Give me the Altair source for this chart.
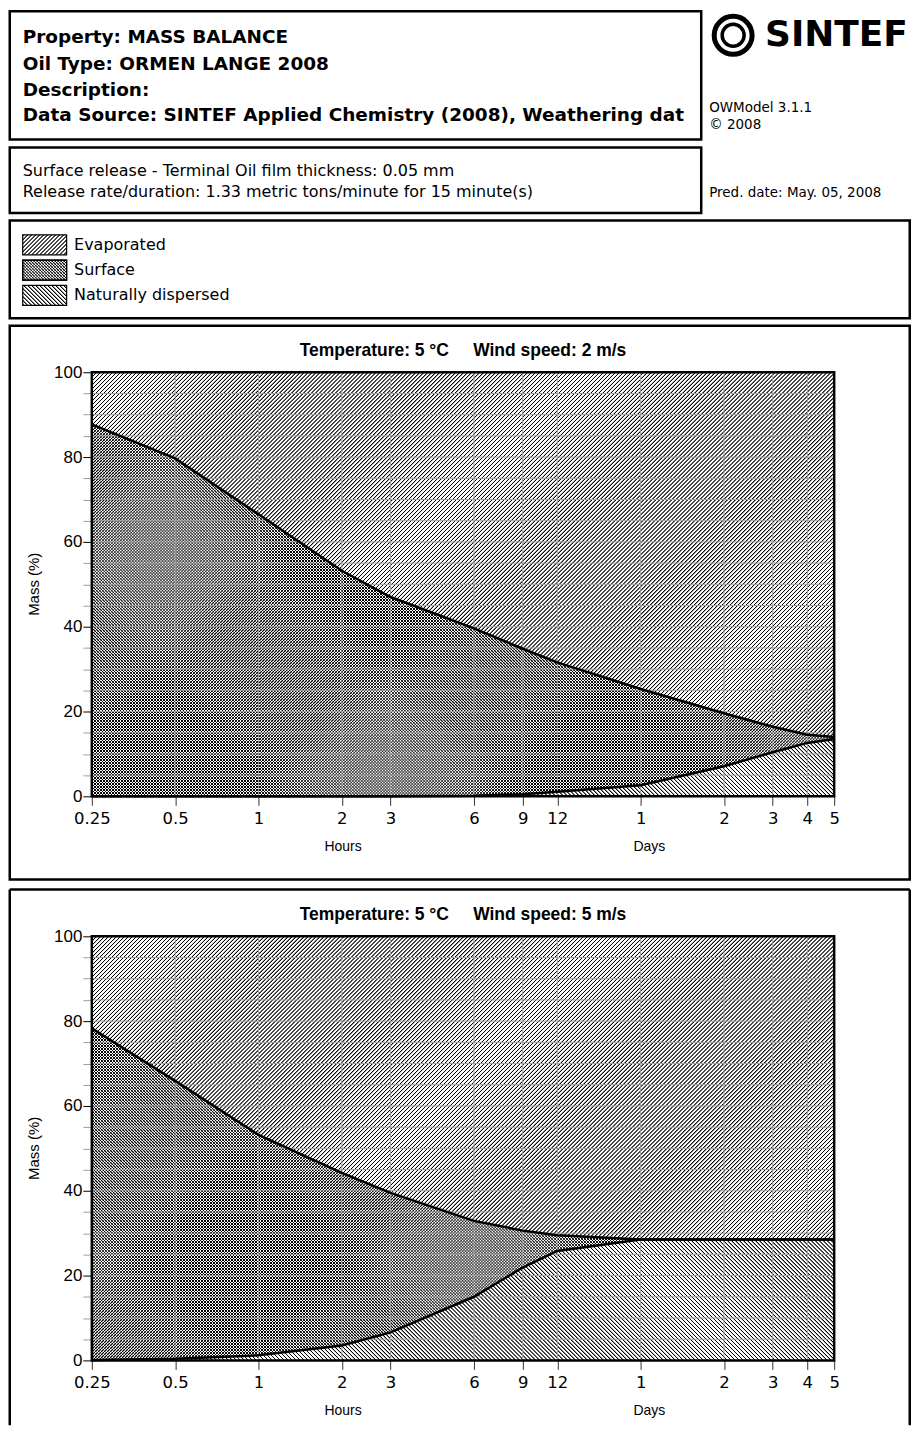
import altair as alt
import pandas as pd

# ---------------- data ----------------
HOURS = [0.25, 0.5, 1, 2, 3, 6, 9, 12, 24, 48, 72, 96, 120]
TICK_LABELS = ["0.25", "0.5", "1", "2", "3", "6", "9", "12", "1", "2", "3", "4", "5"]
Y_TICKS = list(range(0, 101, 5))
Y_GRID = list(range(5, 100, 5))
X_GRID = HOURS[1:-1]

# cumulative boundaries (%): surface+dispersed (upper line) and dispersed (lower line)
P1_UPPER = [87.7, 79.7, 66.5, 53.2, 47.0, 39.6, 34.8, 31.6, 25.3, 19.6, 16.4, 14.5, 14.0]
P1_LOWER = [0.0, 0.0, 0.0, 0.0, 0.0, 0.15, 0.5, 1.1, 2.6, 7.1, 10.4, 12.6, 13.5]
P2_UPPER = [78.3, 65.9, 53.2, 44.2, 39.5, 32.9, 30.6, 29.5, 28.5, 28.5, 28.5, 28.5, 28.5]
P2_LOWER = [0.1, 0.4, 1.2, 3.5, 6.6, 15.0, 21.9, 25.8, 28.5, 28.5, 28.5, 28.5, 28.5]

GAP = "\u00a0" * 5
TITLES = ["Temperature: 5 °C" + GAP + "Wind speed: 2 m/s",
          "Temperature: 5 °C" + GAP + "Wind speed: 5 m/s"]
HEADER_LINES = ["Property: MASS BALANCE", "Oil Type: ORMEN LANGE 2008", "Description:",
                "Data Source: SINTEF Applied Chemistry (2008), Weathering dat"]
RELEASE_LINES = ["Surface release - Terminal Oil film thickness: 0.05 mm",
                 "Release rate/duration: 1.33 metric tons/minute for 15 minute(s)"]
MODEL_LINES = ["OWModel 3.1.1", "© 2008"]
PRED_DATE = "Pred. date: May. 05, 2008"
LEGEND = ["Evaporated", "Surface", "Naturally dispersed"]
LOGO = "SINTEF"

# ---------------- layout / style ----------------
FONT = "Liberation Sans"
WIDE = "DejaVu Sans"
GRID = "#a0a0a0"
PW, PH = 744, 425
U = PH / 100.0
X0 = 91.25           # page x of plot left
Y0 = [372.7, 935.0]  # page y of plot tops
ONE = pd.DataFrame({"k": [0]})


def hatch(W, H, direction, period, bg, core=0.6, ramp=0.7):
    r = H / W
    d = (1 + r) / (1 + r * r)
    if direction == "/":
        x1, y1, x2, y2 = 0, 0, d, d * r
    else:
        x1, y1, x2, y2 = 0, 1, d, 1 - d * r
    L = W + H
    prof = [(0.0, bg), (ramp, "black"), (ramp + core, "black"), (2 * ramp + core, bg)]
    stops = []
    s = 0.0
    while s < L:
        for p, c in prof:
            stops.append({"offset": round(min((s + p) / L, 1.0), 6), "color": c})
        s += period
    stops.append({"offset": 1, "color": bg})
    return {"gradient": "linear", "x1": round(x1, 6), "y1": round(y1, 6),
            "x2": round(x2, 6), "y2": round(y2, 6), "stops": stops}


def txt(s, px, py, oy, size, bold=False, align="left", angle=0, font=FONT):
    kw = dict(align=align, baseline="middle", font=font, fontSize=size,
              fontWeight="bold" if bold else "normal", color="black")
    if angle:
        kw["angle"] = angle
    return alt.Chart(ONE).mark_text(**kw).encode(
        x=alt.value(px - X0), y=alt.value(py - oy), text=alt.value(s))


def box(x1, y1, x2, y2, oy, sw=2.5, fill=None):
    kw = dict(stroke="black", strokeWidth=sw)
    if fill is None:
        kw["fillOpacity"] = 0
        kw["fill"] = "white"
    else:
        kw["fill"] = fill
    return alt.Chart(ONE).mark_rect(**kw).encode(
        x=alt.value(x1 - X0), x2=alt.value(x2 - X0),
        y=alt.value(y1 - oy), y2=alt.value(y2 - oy))


def vline(x, y1, y2, oy):
    return alt.Chart(ONE).mark_rule(color="black", strokeWidth=2.5).encode(
        x=alt.value(x - X0), y=alt.value(y1 - oy), y2=alt.value(y2 - oy))


def hline(x1, x2, y, oy):
    return alt.Chart(ONE).mark_rule(color="black", strokeWidth=2.5).encode(
        x=alt.value(x1 - X0), x2=alt.value(x2 - X0), y=alt.value(y - oy))


xexpr = "''"
for h, lab in reversed(list(zip(HOURS, TICK_LABELS))):
    xexpr = f"datum.value == {h} ? '{lab}' : " + xexpr

XAXIS = alt.Axis(values=HOURS, labelExpr=xexpr, grid=False, domain=False, tickSize=9,
                 tickColor="#333", labelFontSize=16.5, labelFont=WIDE, labelColor="black",
                 labelPadding=5, labelFlush=False, labelOverlap=False, title=None)
YAXIS = alt.Axis(values=Y_TICKS, labelExpr="datum.value % 20 == 0 ? datum.label : ''",
                 grid=False, domain=False, tickSize=9,
                 tickColor={"condition": {"test": "datum.value % 20 == 0", "value": "black"},
                            "value": GRID},
                 labelFontSize=17, labelFont=FONT, labelColor="black", labelPadding=1,
                 labelOverlap=False, title=None)
XS = alt.Scale(type="log", domain=[0.25, 120], nice=False)
YS = alt.Scale(domain=[0, 100], nice=False, zero=False)
XE = alt.X("h:Q", scale=XS, axis=XAXIS)


def ye(field):
    return alt.Y(field, type="quantitative", scale=YS, axis=YAXIS)


def panel(idx, upper, lower, extra):
    oy = Y0[idx]
    df = pd.DataFrame({"h": HOURS, "upper": upper, "lower": lower,
                       "full": [100] * len(HOURS), "zero": [0] * len(HOURS)})
    base = alt.Chart(df)
    h_evap = (100 - min(upper)) * U
    h_surf = (max(upper) - min(lower)) * U
    h_disp = max(lower) * U
    evap = base.mark_area(fill=hatch(PW, h_evap, "/", 4, "white")).encode(
        x=XE, y=ye("upper"), y2="full:Q")
    surf1 = base.mark_area(fill=hatch(PW, h_surf, "/", 3, "white", 0.4, 0.5)).encode(
        x=XE, y=ye("lower"), y2="upper:Q")
    surf2 = base.mark_area(fill=hatch(PW, h_surf, "\\", 3, "rgba(0,0,0,0)", 0.4, 0.5)).encode(
        x=XE, y=ye("lower"), y2="upper:Q")
    disp = base.mark_area(fill=hatch(PW, h_disp, "\\", 4, "white")).encode(
        x=XE, y=ye("zero"), y2="lower:Q")
    hgrid = alt.Chart(pd.DataFrame({"g": Y_GRID})).mark_rule(color=GRID, strokeWidth=1).encode(
        y=ye("g"))
    vgrid = alt.Chart(pd.DataFrame({"h": X_GRID})).mark_rule(color=GRID, strokeWidth=1).encode(
        x=XE)
    l_up = base.mark_line(color="black", strokeWidth=2.5).encode(x=XE, y=ye("upper"))
    l_lo = base.mark_line(color="black", strokeWidth=2.5).encode(x=XE, y=ye("lower"))
    frame = box(X0, oy, X0 + PW, oy + PH, oy, sw=2.5)
    labels = [
        txt(TITLES[idx], X0 + PW / 2, oy - 21.5, oy, 17.5, bold=True, align="center"),
        txt("Hours", 343, oy + 475.5, oy, 14, align="center"),
        txt("Days", 650, oy + 475.5, oy, 14, align="center"),
        txt("Mass (%)", 33, oy + PH / 2, oy, 15, align="center", angle=270),
    ]
    return alt.layer(evap, surf1, surf2, disp, hgrid, vgrid, l_up, l_lo, frame,
                     *labels, *extra).properties(width=PW, height=PH)


# ---------------- header (drawn in panel 1 coordinates) ----------------
oy = Y0[0]
header = [
    box(9, 11, 702, 139.5, oy),
    box(9, 147.5, 702, 213, oy),
    box(9, 220.5, 911, 318.5, oy),
    box(9, 326, 911, 881, oy),
]
for s, y in zip(HEADER_LINES, [37, 63.3, 90, 115]):
    header.append(txt(s, 22, y, oy, 18.5, bold=True, font=WIDE))
for s, y in zip(RELEASE_LINES, [171, 191.7]):
    header.append(txt(s, 22, y, oy, 16, font=WIDE))
for s, y in zip(MODEL_LINES, [108.3, 125]):
    header.append(txt(s, 710, y, oy, 13.5, font=WIDE))
header.append(txt(PRED_DATE, 710, 192.7, oy, 13.5, font=WIDE))
header.append(txt(LOGO, 766, 35, oy, 36, bold=True, font=WIDE))
header.append(alt.Chart(ONE).mark_point(shape="circle", filled=False, color="black",
                                        strokeWidth=5, size=1444, opacity=1).encode(
    x=alt.value(734 - X0), y=alt.value(35 - oy)))
header.append(alt.Chart(ONE).mark_point(shape="circle", filled=False, color="black",
                                        strokeWidth=3.5, size=484, opacity=1).encode(
    x=alt.value(734 - X0), y=alt.value(35 - oy)))

SW, SH = 44, 20
sw_specs = [[("/", 4, "white", 0.6, 0.7)],
            [("/", 3, "white", 0.4, 0.5), ("\\", 3, "rgba(0,0,0,0)", 0.4, 0.5)],
            [("\\", 4, "white", 0.6, 0.7)]]
for i, name in enumerate(LEGEND):
    cy = 245 + 25.3 * i
    for d, p, bg, c, rp in sw_specs[i]:
        header.append(box(22, cy - SH / 2, 22 + SW, cy + SH / 2, oy, sw=1.2,
                          fill=hatch(SW, SH, d, p, bg, c, rp)))
    header.append(txt(name, 73.5, cy, oy, 16, font=WIDE))

p1 = panel(0, P1_UPPER, P1_LOWER, header)

oy2 = Y0[1]
p2_extra = [
    hline(9, 911, 888, oy2),
    vline(9, 888, 1425, oy2),
    vline(911, 888, 1425, oy2),
]
p2 = panel(1, P2_UPPER, P2_LOWER, p2_extra)

chart = alt.vconcat(p1, p2, spacing=Y0[1] - Y0[0] - PH + 3, bounds="flush").properties(
    padding={"left": 0, "top": -4.5, "right": 0, "bottom": 0}
).configure_view(stroke="transparent")

chart.save("out.html", embed_options={"renderer": "svg", "actions": False})
